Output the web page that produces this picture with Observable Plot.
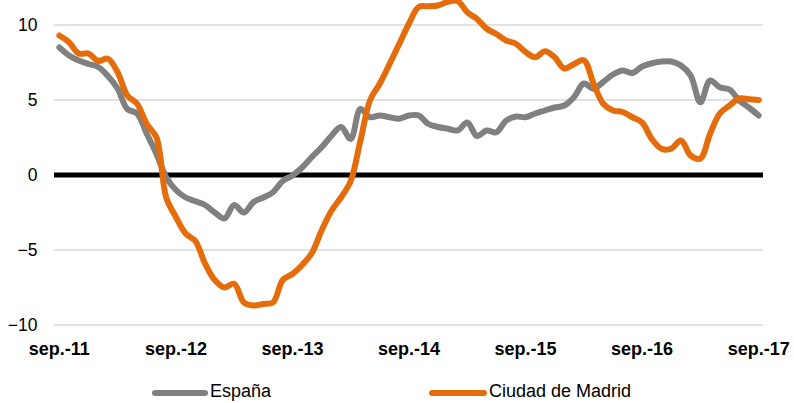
<!DOCTYPE html>
<html>
<head>
<meta charset="utf-8">
<script src="https://cdn.jsdelivr.net/npm/d3@7"></script>
<script src="https://cdn.jsdelivr.net/npm/@observablehq/plot@0.6"></script>
<style>
  html, body { margin: 0; padding: 0; background: #fff; }
  #wrap { position: relative; width: 794px; height: 403px; overflow: hidden; font-family: "Liberation Sans", Arial, Helvetica, sans-serif; }
  .sw { position: absolute; height: 6px; border-radius: 3px; }
  .lt { position: absolute; font-size: 18px; line-height: 18px; color: #000; white-space: nowrap; }
</style>
</head>
<body>
<div id="wrap"></div>
<script>
// Monthly data, sep.-11 .. sep.-17 (73 months)
const espana = [8.5, 7.97, 7.63, 7.4, 7.2, 6.6, 5.75, 4.4, 4.1, 2.75, 1.4, -0.15, -1.0, -1.5, -1.75, -2.0, -2.5, -2.9, -2.0, -2.5, -1.8, -1.5, -1.15, -0.4, -0.03, 0.5, 1.2, 1.85, 2.6, 3.2, 2.4, 4.4, 3.85, 3.97, 3.85, 3.75, 3.97, 3.97, 3.4, 3.2, 3.08, 2.97, 3.5, 2.6, 2.97, 2.85, 3.63, 3.9, 3.85, 4.1, 4.3, 4.5, 4.63, 5.2, 6.1, 5.75, 6.2, 6.7, 6.97, 6.8, 7.23, 7.45, 7.57, 7.57, 7.3, 6.63, 4.85, 6.3, 5.85, 5.7, 4.97, 4.5, 3.97];
const madrid = [9.3, 8.85, 8.1, 8.1, 7.6, 7.75, 6.85, 5.3, 4.75, 3.4, 2.5, -1.5, -2.8, -3.9, -4.4, -5.9, -7.0, -7.5, -7.25, -8.5, -8.7, -8.6, -8.5, -7.0, -6.6, -6.0, -5.2, -3.7, -2.4, -1.5, -0.4, 2.3, 5.0, 6.1, 7.4, 8.75, 10.1, 11.2, 11.25, 11.3, 11.55, 11.6, 10.85, 10.4, 9.75, 9.4, 8.97, 8.75, 8.2, 7.85, 8.25, 7.85, 7.1, 7.4, 7.65, 6.1, 4.75, 4.3, 4.2, 3.85, 3.5, 2.4, 1.75, 1.75, 2.3, 1.3, 1.1, 2.75, 4.1, 4.63, 5.1, 5.05, 5.0];
const xTickLabels = ["sep.-11", "sep.-12", "sep.-13", "sep.-14", "sep.-15", "sep.-16", "sep.-17"];
const yTicks = [-10, -5, 0, 5, 10];
const seriesNames = ["España", "Ciudad de Madrid"];
const seriesColors = ["#808080", "#E46C0A"];

const esData = espana.map((v, i) => ({i, v}));
const mdData = madrid.map((v, i) => ({i, v}));
const xTickPos = xTickLabels.map((_, k) => k * 12);

const chart = Plot.plot({
  width: 794,
  height: 372,
  marginTop: 24.5,
  marginBottom: 47.5,
  marginLeft: 54,
  marginRight: 31,
  style: { fontFamily: "Liberation Sans, Arial, Helvetica, sans-serif", background: "#fff", overflow: "visible" },
  x: { domain: [-0.5, espana.length - 0.5] },
  y: { domain: [-10, 10] },
  marks: [
    Plot.ruleY(yTicks.filter(d => d !== 0), { stroke: "#d9d9d9", strokeWidth: 1.3 }),
    Plot.ruleY([0], { stroke: "#000", strokeWidth: 5 }),
    Plot.line(esData, { x: "i", y: "v", stroke: seriesColors[0], strokeWidth: 6, curve: "catmull-rom", strokeLinecap: "round", strokeLinejoin: "round" }),
    Plot.line(mdData, { x: "i", y: "v", stroke: seriesColors[1], strokeWidth: 6, curve: "catmull-rom", strokeLinecap: "round", strokeLinejoin: "round" }),
    Plot.axisY(yTicks, { tickSize: 0, tickPadding: 17, fontSize: 17.5, label: null, textAnchor: "end" }),
    Plot.axisX(xTickPos, { tickSize: 0, tickPadding: 17.5, fontSize: 18, fontWeight: "bold", label: null, tickFormat: (d) => xTickLabels[d / 12] })
  ]
});
chart.style.position = "absolute";
chart.style.left = "0px";
chart.style.top = "0px";
const wrap = document.getElementById("wrap");
wrap.appendChild(chart);

const legendItems = [
  { sw: 152, swW: 56, tx: 210 },
  { sw: 429, swW: 58, tx: 489 }
];
legendItems.forEach((it, k) => {
  const s = document.createElement("div");
  s.className = "sw";
  s.style.left = it.sw + "px";
  s.style.width = it.swW + "px";
  s.style.top = "390px";
  s.style.background = seriesColors[k];
  wrap.appendChild(s);
  const t = document.createElement("div");
  t.className = "lt";
  t.style.left = it.tx + "px";
  t.style.top = "382px";
  t.textContent = seriesNames[k];
  wrap.appendChild(t);
});
</script>
</body>
</html>
